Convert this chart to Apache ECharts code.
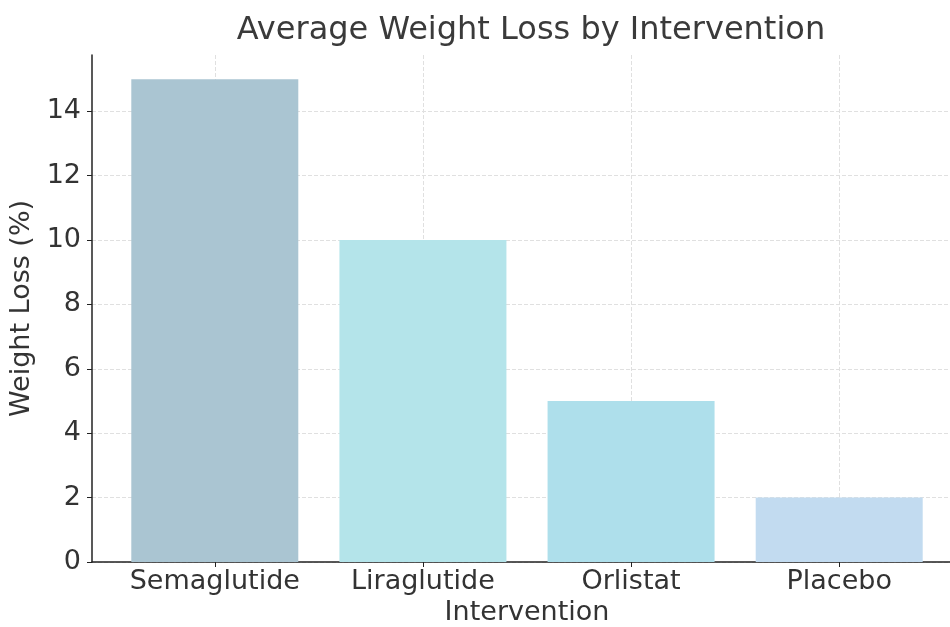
<!DOCTYPE html>
<html>
<head>
<meta charset="utf-8">
<script src="https://cdn.jsdelivr.net/npm/echarts@6/dist/echarts.min.js"></script>
<style>
  html, body { margin: 0; padding: 0; background: #fff; }
  #chart { width: 950px; height: 627px; }
</style>
</head>
<body>
<div id="chart"></div>
<script>
const categories = ['Semaglutide', 'Liraglutide', 'Orlistat', 'Placebo'];
const weightLoss = [15, 10, 5, 2];
const barColors = ['#aac5d2', '#b4e4ea', '#aedfeb', '#c2dbf0'];
const yTicks = [0, 2, 4, 6, 8, 10, 12, 14];
const xTicks = [0, 1, 2, 3];

const chart = echarts.init(document.getElementById('chart'));

const gridLine = { show: true, lineStyle: { color: '#e0e0e0', type: [4, 2], width: 1 } };
const font = 'DejaVu Sans';

chart.setOption({
  animation: false,
  title: {
    text: 'Average Weight Loss by Intervention',
    left: 526,
    textAlign: 'center',
    top: 10,
    textStyle: { fontFamily: font, fontSize: 32, fontWeight: 'normal', color: '#3a3a3a' }
  },
  grid: { left: 92, top: 55, width: 870, height: 507, outerBoundsMode: 'none' },
  xAxis: {
    type: 'value',
    min: -0.59,
    max: 3.59,
    name: 'Intervention',
    nameLocation: 'middle',
    nameGap: 37,
    nameTextStyle: { fontFamily: font, fontSize: 27, color: '#333' },
    axisLine: { show: true, onZero: false, lineStyle: { color: '#222', width: 1.5 } },
    axisTick: { show: true, length: 5, customValues: xTicks, lineStyle: { color: '#222' } },
    axisLabel: {
      customValues: xTicks,
      margin: 6,
      fontFamily: font, fontSize: 27, color: '#333',
      formatter: v => categories[Math.round(v)]
    },
    splitLine: gridLine
  },
  yAxis: {
    type: 'value',
    min: 0,
    max: 15.75,
    name: 'Weight Loss (%)',
    nameLocation: 'middle',
    nameGap: 56,
    nameTextStyle: { fontFamily: font, fontSize: 27, color: '#333' },
    axisLine: { show: true, onZero: false, lineStyle: { color: '#222', width: 1.5 } },
    axisTick: { show: true, length: 5, customValues: yTicks, lineStyle: { color: '#222' } },
    axisLabel: { customValues: yTicks, margin: 11, fontFamily: font, fontSize: 27, color: '#333' },
    splitLine: gridLine
  },
  series: [{
    type: 'bar',
    barWidth: 167,
    data: weightLoss.map((v, i) => ({ value: [i, v], itemStyle: { color: barColors[i] } }))
  }]
});
</script>
</body>
</html>
